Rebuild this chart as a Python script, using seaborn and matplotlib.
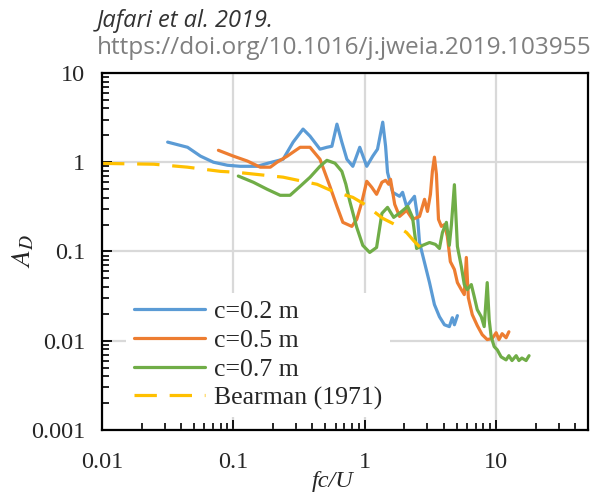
import matplotlib
matplotlib.use("Agg")
import matplotlib.pyplot as plt
import matplotlib.ticker as mticker
import numpy as np
import pandas as pd
import seaborn as sns

# ---- data ----
blue_x = [0.0316, 0.0448, 0.0562, 0.0705, 0.090, 0.113, 0.152, 0.181, 0.239, 0.285, 0.339,
          0.383, 0.456, 0.515, 0.562, 0.614, 0.669, 0.731, 0.811, 0.916, 1.035, 1.15, 1.25,
          1.37, 1.44, 1.49, 1.63, 1.84, 1.94, 2.08, 2.39, 2.52, 2.61, 2.85, 3.11, 3.39, 3.70,
          4.04, 4.40, 4.64, 4.81, 5.07]
blue_y = [1.68, 1.47, 1.17, 1.0, 0.925, 0.90, 0.90, 0.97, 1.08, 1.68, 2.35,
          1.96, 1.40, 1.47, 1.51, 2.67, 1.68, 1.08, 0.90, 1.47, 0.90, 1.17, 1.40,
          2.81, 1.51, 0.77, 0.46, 0.415, 0.46, 0.32, 0.415, 0.247, 0.126, 0.075, 0.0448, 0.0254, 0.0186,
          0.0151, 0.0144, 0.0181, 0.0151, 0.0191]

orange_x = [0.0769, 0.10, 0.128, 0.160, 0.191, 0.215, 0.257, 0.322, 0.383, 0.456, 0.543,
            0.614, 0.681, 0.797, 0.869, 0.949, 1.035, 1.13, 1.23, 1.35, 1.44, 1.52, 1.57,
            1.69, 1.84, 2.08, 2.31, 2.61, 2.85, 3.0, 3.16, 3.27, 3.39, 3.51, 3.64, 3.83,
            4.04, 4.25, 4.48, 4.81, 5.07, 5.43, 5.72, 5.93, 6.14, 6.58, 7.18, 7.83, 8.55,
            9.33, 10.0, 10.5, 11.1, 11.9, 12.5]
orange_y = [1.36, 1.17, 1.03, 0.88, 0.88, 1.0, 1.17, 1.47, 1.47, 1.08, 0.537,
            0.32, 0.212, 0.191, 0.229, 0.356, 0.612, 0.524, 0.437, 0.596, 0.627, 0.566, 0.644,
            0.337, 0.247, 0.289, 0.229, 0.247, 0.384, 0.281, 0.437, 0.79, 1.14, 0.733, 0.229, 0.191,
            0.20, 0.148, 0.077, 0.0628, 0.0448, 0.0374, 0.0329, 0.0857, 0.0304, 0.0196, 0.0148, 0.0117, 0.0103,
            0.0106, 0.0123, 0.0103, 0.012, 0.0108, 0.0126]

green_x = [0.109, 0.142, 0.181, 0.227, 0.270, 0.322, 0.383, 0.456, 0.515, 0.593, 0.669,
           0.718, 0.769, 0.869, 0.966, 1.09, 1.23, 1.35, 1.49, 1.66, 1.87, 2.12, 2.31,
           2.48, 2.75, 3.11, 3.45, 3.70, 3.90, 4.18, 4.40, 4.56, 4.81, 5.07, 5.43, 5.72,
           6.03, 6.47, 6.81, 7.18, 7.70, 8.11, 8.55, 8.85, 9.16, 9.66, 10.2, 10.9, 11.9,
           12.5, 13.2, 14.2, 14.9, 15.7, 16.9, 17.8]
green_y = [0.70, 0.596, 0.497, 0.426, 0.426, 0.537, 0.678, 0.90, 1.05, 0.975, 0.79,
           0.566, 0.365, 0.186, 0.117, 0.0975, 0.111, 0.267, 0.312, 0.241, 0.274, 0.32, 0.241,
           0.108, 0.117, 0.126, 0.12, 0.108, 0.163, 0.212, 0.117, 0.196, 0.56, 0.114, 0.068, 0.0426,
           0.0374, 0.0426, 0.0312, 0.0223, 0.0186, 0.0144, 0.0448, 0.0172, 0.0111, 0.0086, 0.0079, 0.0066, 0.0061,
           0.0068, 0.006, 0.0068, 0.006, 0.0064, 0.006, 0.0068]

bear_x = [0.01, 0.0248, 0.0448, 0.0797, 0.107, 0.239, 0.433, 0.572, 0.811, 1.0, 1.37, 1.69,
          2.08, 2.39, 3.0]
bear_y = [0.97, 0.95, 0.88, 0.79, 0.77, 0.68, 0.566, 0.472, 0.404, 0.337, 0.235, 0.201,
          0.163, 0.129, 0.0925]

labels = ["c=0.2 m", "c=0.5 m", "c=0.7 m", "Bearman (1971)"]
colors = ["#5B9BD5", "#ED7D31", "#70AD47", "#FFC000"]
x_ticks = [0.01, 0.1, 1, 10]
x_tick_labels = ["0.01", "0.1", "1", "10"]
y_ticks = [0.001, 0.01, 0.1, 1, 10]
y_tick_labels = ["0.001", "0.01", "0.1", "1", "10"]

# ---- style ----
sns.set_style("white")
plt.rcParams["font.family"] = ["Liberation Serif", "DejaVu Serif"]
plt.rcParams["mathtext.fontset"] = "stix"

fig = plt.figure(figsize=(6.09, 4.93), dpi=100)
ax = fig.add_axes([0.1675, 0.1278, 0.798, 0.7242])

series = [(blue_x, blue_y), (orange_x, orange_y), (green_x, green_y), (bear_x, bear_y)]
for i, ((xs, ys), lab, col) in enumerate(zip(series, labels, colors)):
    df = pd.DataFrame({"x": xs, "y": ys})
    sns.lineplot(data=df, x="x", y="y", ax=ax, color=col, lw=2.3,
                 label=lab, estimator=None, sort=True)
    if i == 3:
        ax.lines[-1].set_dashes([7, 4])

ax.set_xscale("log")
ax.set_yscale("log")
ax.set_xlim(0.01, 50)
ax.set_ylim(0.001, 10)

ax.set_xticks(x_ticks)
ax.set_xticklabels(x_tick_labels)
ax.set_yticks(y_ticks)
ax.set_yticklabels(y_tick_labels)
ax.xaxis.set_minor_locator(mticker.LogLocator(base=10, subs=np.arange(2, 10), numticks=20))
ax.yaxis.set_minor_locator(mticker.LogLocator(base=10, subs=np.arange(2, 10), numticks=20))
ax.xaxis.set_minor_formatter(mticker.NullFormatter())
ax.yaxis.set_minor_formatter(mticker.NullFormatter())

ax.tick_params(axis="both", which="major", direction="in", length=7, width=1.3,
               labelsize=17.5, color="black", pad=12, top=False, right=False,
               bottom=True, left=True)
ax.tick_params(axis="x", which="major", pad=16)
ax.tick_params(axis="both", which="minor", direction="in", length=5, width=1.2,
               color="black", top=False, right=False, bottom=True, left=True)

ax.grid(True, which="major", color="#D9D9D9", lw=1.6)
ax.set_axisbelow(True)
for sp in ax.spines.values():
    sp.set_visible(True)
    sp.set_color("black")
    sp.set_linewidth(1.6)

ax.set_xlabel("fc/U", fontsize=17.5, style="italic")
ax.xaxis.set_label_coords(0.474, -0.114)
ax.set_ylabel(r"$A_D$", fontsize=20)
ax.yaxis.set_label_coords(-0.135, 0.5)

leg = ax.legend(loc="upper left", bbox_to_anchor=(0.049, 0.385), frameon=True,
                facecolor="white", edgecolor="none", framealpha=1, fontsize=18.5,
                handlelength=2.8, handletextpad=0.35, labelspacing=0.22,
                borderpad=0.3, borderaxespad=0)
leg.get_frame().set_boxstyle("square", pad=0)

fig.text(0.159, 0.958, "Jafari et al. 2019.", fontsize=17, style="italic",
         family=["Open Sans", "DejaVu Sans"], color="#333333", va="center")
fig.text(0.159, 0.903, "https://doi.org/10.1016/j.jweia.2019.103955", fontsize=17.6,
         family=["Open Sans", "DejaVu Sans"], color="#7F7F7F", va="center")

fig.savefig("out.png", dpi=100)
